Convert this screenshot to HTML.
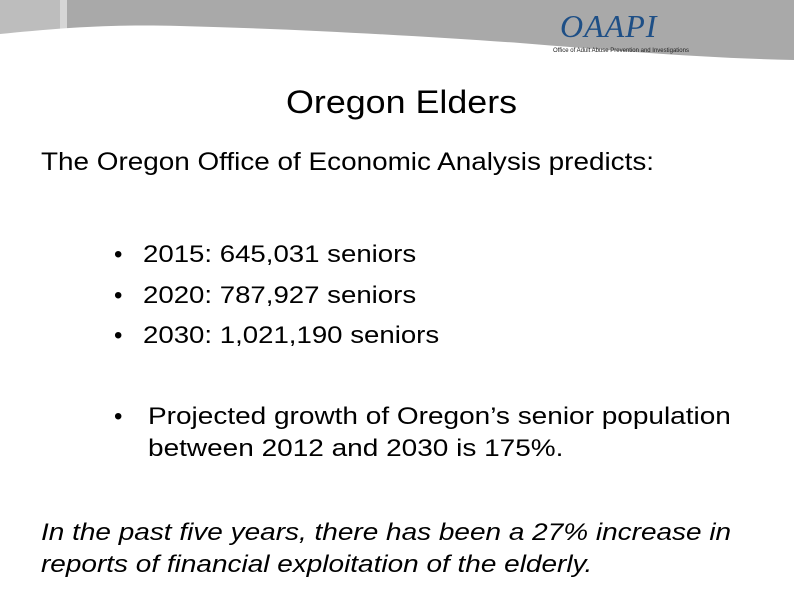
<!DOCTYPE html>
<html><head><style>
body{margin:0;width:794px;height:595px;background:#fff;overflow:hidden;position:relative;font-family:"Liberation Sans",Arial,sans-serif;color:#000}
.t{position:absolute;white-space:nowrap;transform-origin:0 0}
</style></head><body>
<svg width="794" height="70" style="position:absolute;left:0;top:0">
<rect width="794" height="70" fill="#a9a9a9"/>
<rect width="60" height="70" fill="#bdbdbd"/>
<rect x="60" width="7" height="70" fill="#d6d6d6"/>
<path d="M0,34 C60,28 110,24 180,26 C300,29 420,36 520,43 C620,51 700,58 794,60 L794,70 L0,70 Z" fill="#fff"/>
</svg>
<div class="t" style="left:560px;top:8px;font-family:'Liberation Serif',serif;font-style:italic;font-size:32px;color:#1e4f86;letter-spacing:1px">OAAPI</div>
<div class="t" style="left:553px;top:48px;font-size:6px;color:#222">Office of Adult Abuse Prevention and Investigations</div>
<div class="t" style="left:286px;top:84px;font-size:32px;transform:scaleX(1.12)">Oregon Elders</div>
<div class="t" style="left:41px;top:148px;font-size:25px;transform:scaleX(1.115)">The Oregon Office of Economic Analysis predicts:</div>
<div class="t" style="left:114px;top:241px;font-size:24px">•</div>
<div class="t" style="left:143px;top:241px;font-size:24px;transform:scaleX(1.15)">2015: 645,031 seniors</div>
<div class="t" style="left:114px;top:282px;font-size:24px">•</div>
<div class="t" style="left:143px;top:282px;font-size:24px;transform:scaleX(1.15)">2020: 787,927 seniors</div>
<div class="t" style="left:114px;top:322px;font-size:24px">•</div>
<div class="t" style="left:143px;top:322px;font-size:24px;transform:scaleX(1.15)">2030: 1,021,190 seniors</div>
<div class="t" style="left:114px;top:401px;font-size:24px;line-height:32px">•</div>
<div class="t" style="left:148px;top:401px;font-size:24px;line-height:32px;transform:scaleX(1.166)">Projected growth of Oregon’s senior population<br>between 2012 and 2030 is 175%.</div>
<div class="t" style="left:41px;top:517px;font-size:24px;font-style:italic;line-height:32px;transform:scaleX(1.165)">In the past five years, there has been a 27% increase in<br>reports of financial exploitation of the elderly.</div>
</body></html>
